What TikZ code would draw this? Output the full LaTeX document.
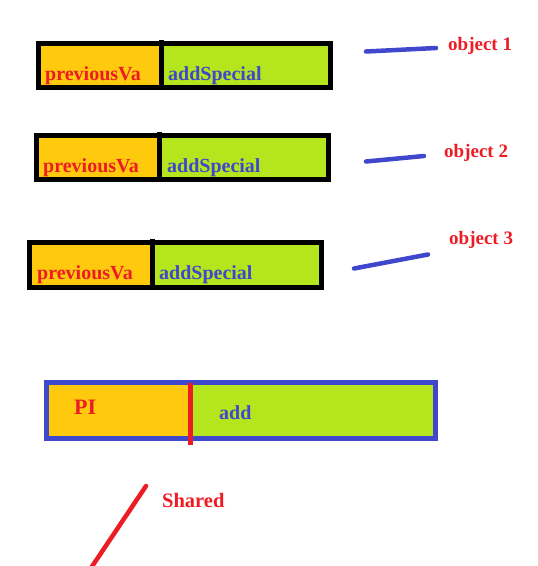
\documentclass[tikz,border=0pt]{standalone}
\usepackage{fontspec}
\setmainfont{Liberation Serif}
\usepackage{tikz}
\usetikzlibrary{calc,positioning}

\definecolor{paintorange}{HTML}{FFC90E}
\definecolor{paintlime}{HTML}{B5E61D}
\definecolor{paintblue}{HTML}{3F48CC}
\definecolor{paintred}{HTML}{ED1C24}

\begin{document}
\begin{tikzpicture}[x=1pt,y=-1pt]
      \tikzstyle{lbl} = [inner sep=0pt, anchor=base west, font=\fontsize{20}{22}\selectfont\bfseries]
      \tikzstyle{redlbl} = [lbl, text=paintred]
      \tikzstyle{bluelbl} = [lbl, text=paintblue]
      \tikzstyle{tag} = [redlbl, font=\fontsize{19}{21}\selectfont\bfseries]
      \tikzstyle{rim} = [line width=5pt]
      \tikzstyle{pen} = [line width=4.5pt, line cap=round]
      \useasboundingbox (0,0) rectangle (538,566);

      % the three objects
      \foreach \i/\xa/\xd/\xb/\ya/\yb/\yt/\px/\ax/\by in
          {1/38.5/161.5/330.5/43.5/87.5/40/45/168/80,
           2/36.5/159.5/328.5/135.5/179.5/132/43/167/172,
           3/29.5/152.5/321.5/242.5/287.5/239/37/159/279}{
        \fill[paintorange] (\xa,\ya) rectangle (\xd,\yb);
        \fill[paintlime] (\xd,\ya) rectangle (\xb,\yb);
        \draw[rim] (\xa,\ya) rectangle (\xb,\yb);
        \draw[rim] (\xd,\yt) -- (\xd,\yb);
        \node[redlbl] (prev\i) at (\px,\by) {previousVa};
        \node[bluelbl] (add\i) at (\ax,\by+0.5) {addSpecial};
      }

      % the shared part
      \fill[paintorange] (46.5,382.5) rectangle (190.5,438.5);
      \fill[paintlime] (190.5,382.5) rectangle (435.5,438.5);
      \draw[rim, paintblue] (46.5,382.5) rectangle (435.5,438.5);
      \draw[rim, paintred] (190.5,383) -- (190.5,445);
      \node[redlbl, font=\fontsize{22}{24}\selectfont\bfseries] (pi) at (74,414) {PI};
      \node[bluelbl] (add) at (219,419) {add};

      % labels and pen strokes
      \node[tag] (obj1) at (448,50) {object 1};
      \node[tag] (obj2) at (444,157) {object 2};
      \node[tag] (obj3) at (449,244) {object 3};
      \node[tag, font=\fontsize{20.5}{22}\selectfont\bfseries] (shared) at (162,507) {Shared};

      \coordinate (s1a) at (366,51.5);
      \coordinate (s1b) at (436,48);
      \coordinate (s2a) at (366,161.5);
      \coordinate (s2b) at (424,156);
      \coordinate (s3a) at (354,268.5);
      \coordinate (s3b) at (428,254.5);
      \coordinate (s4a) at (146,486);
      \coordinate (s4b) at (91,568);

      \draw[pen, paintblue] (s1a) -- (s1b);
      \draw[pen, paintblue] (s2a) -- (s2b);
      \draw[pen, paintblue] (s3a) -- (s3b);
      \draw[pen, paintred] (s4a) -- (s4b);

    \end{tikzpicture}
\end{document}
